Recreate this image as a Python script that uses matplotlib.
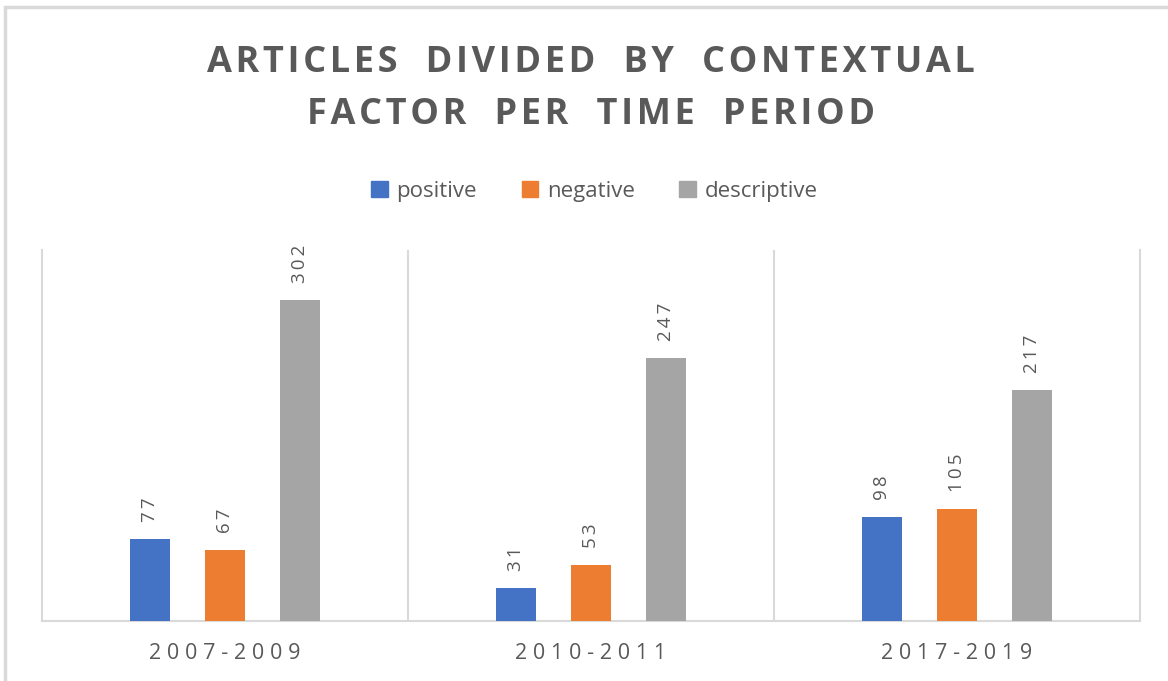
import matplotlib.pyplot as plt
import matplotlib.patches as mpatches
import numpy as np

plt.rcParams["font.family"] = ["Open Sans", "DejaVu Sans"]

periods = ["2007-2009", "2010-2011", "2017-2019"]
series = ["positive", "negative", "descriptive"]
positive = [77, 31, 98]
negative = [67, 53, 105]
descriptive = [302, 247, 217]

COLORS = ["#4472C4", "#ED7D31", "#A5A5A5"]
TEXT = "#595959"
GRID = "#D9D9D9"


def spaced(s, sep="\u2009"):
    return sep.join(s)


fig = plt.figure(figsize=(11.68, 6.81), dpi=100)

# outer chart border (cropped screenshot: only left/top visible)
fig.patches.append(mpatches.Rectangle((5 / 1168, -0.1), 1.2, 0.1 + (681 - 7) / 681,
                                      transform=fig.transFigure, fill=False,
                                      edgecolor="#D9D9D9", linewidth=2.5))

ax = fig.add_axes([42 / 1168, 60 / 681, (1140 - 42) / 1168, (621 - 250) / 681])

x = np.arange(len(periods))
width = 0.11
offsets = [-0.205, 0.0, 0.205]
for vals, off, col in zip([positive, negative, descriptive], offsets, COLORS):
    bars = ax.bar(x + off, vals, width, color=col, zorder=3)
    for b, v in zip(bars, vals):
        ax.text(b.get_x() + b.get_width() / 2, v + 16, spaced(str(v)),
                rotation=90, ha="center", va="bottom", fontsize=13.5, color=TEXT)

ax.set_xlim(-0.5, len(periods) - 0.5)
ax.set_ylim(0, 349)
ax.set_yticks([])
ax.set_xticks(x)
ax.set_xticklabels([spaced(p, "\u2009\u200a") for p in periods], fontsize=15.5, color=TEXT)
ax.tick_params(axis="x", length=0, pad=16)

for xv in [0.5, 1.5]:
    ax.axvline(xv, color=GRID, linewidth=1.5, zorder=1)
ax.spines["top"].set_visible(False)
for s in ["left", "right", "bottom"]:
    ax.spines[s].set_color(GRID)
    ax.spines[s].set_linewidth(1.5)


def title_line(s):
    return "   ".join(spaced(w, "\u200a") for w in s.split())


fig.text(0.506, 1 - 63 / 681, title_line("ARTICLES DIVIDED BY CONTEXTUAL"),
         ha="center", va="center", fontsize=26, fontweight="bold", color=TEXT)
fig.text(0.506, 1 - 115 / 681, title_line("FACTOR PER TIME PERIOD"),
         ha="center", va="center", fontsize=26, fontweight="bold", color=TEXT)

handles = [mpatches.Patch(color=c, label=l) for c, l in zip(COLORS, series)]
leg = fig.legend(handles=handles, loc="center", bbox_to_anchor=(0.509, 1 - 191 / 681),
                 ncol=3, frameon=False, fontsize=16, handlelength=0.75, handleheight=0.75,
                 handletextpad=0.4, columnspacing=2.0)
for t in leg.get_texts():
    t.set_color(TEXT)

fig.savefig("out.png", dpi=100)
